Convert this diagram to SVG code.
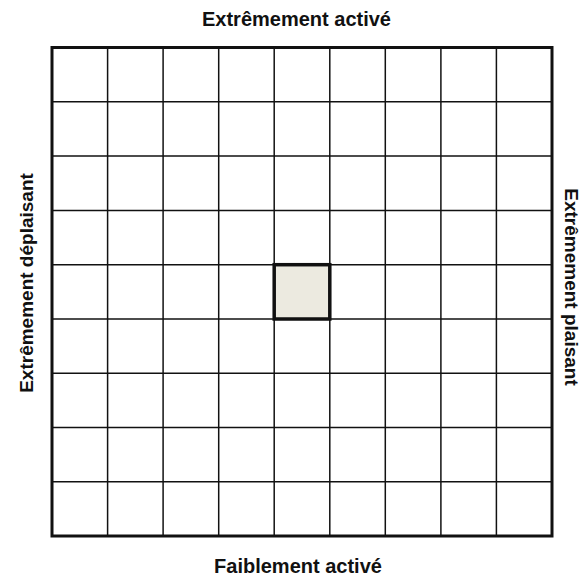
<svg xmlns="http://www.w3.org/2000/svg" width="588" height="576" viewBox="0 0 588 576">
<style>
.lbl{font-family:"Liberation Sans",Arial,sans-serif;font-weight:bold;font-size:20px;fill:#111;text-anchor:middle}
.g{stroke:#111;stroke-width:1.5;fill:none}
</style>
<rect width="588" height="576" fill="#fff"/>
<g id="grid">
<g class="g">
<line x1="107.6" y1="47.5" x2="107.6" y2="536"/>
<line x1="163.1" y1="47.5" x2="163.1" y2="536"/>
<line x1="218.7" y1="47.5" x2="218.7" y2="536"/>
<line x1="274.2" y1="47.5" x2="274.2" y2="536"/>
<line x1="329.8" y1="47.5" x2="329.8" y2="536"/>
<line x1="385.3" y1="47.5" x2="385.3" y2="536"/>
<line x1="440.9" y1="47.5" x2="440.9" y2="536"/>
<line x1="496.4" y1="47.5" x2="496.4" y2="536"/>
<line x1="52" y1="101.8" x2="552" y2="101.8"/>
<line x1="52" y1="156.1" x2="552" y2="156.1"/>
<line x1="52" y1="210.4" x2="552" y2="210.4"/>
<line x1="52" y1="264.7" x2="552" y2="264.7"/>
<line x1="52" y1="318.9" x2="552" y2="318.9"/>
<line x1="52" y1="373.2" x2="552" y2="373.2"/>
<line x1="52" y1="427.5" x2="552" y2="427.5"/>
<line x1="52" y1="481.8" x2="552" y2="481.8"/>
</g>
<rect x="52" y="47.5" width="500" height="488.5" fill="none" stroke="#111" stroke-width="3"/>
</g>
<g id="selected">
<rect x="274.2" y="264.7" width="55.6" height="54.3" fill="#ECEAE0" stroke="#111" stroke-width="3.5"/>
</g>
<g id="labels">
<text class="lbl" x="296.5" y="26">Extrêmement activé</text>
<text class="lbl" x="298" y="573">Faiblement activé</text>
<text class="lbl" transform="translate(33,283) rotate(-90)" style="font-size:19px">Extrêmement déplaisant</text>
<text class="lbl" transform="translate(565,287) rotate(90)" style="font-size:19px">Extrêmement plaisant</text>
</g>
</svg>
